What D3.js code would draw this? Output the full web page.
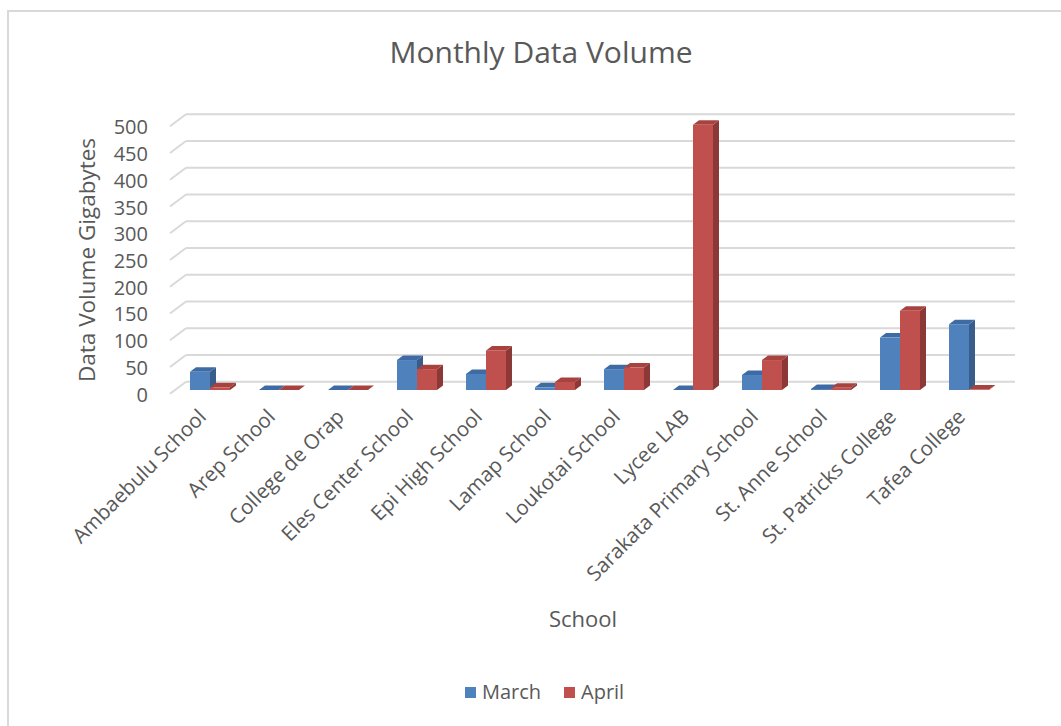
<!DOCTYPE html>
<html>
<head>
<meta charset="UTF-8">
<title>Monthly Data Volume</title>
<script src="https://d3js.org/d3.v7.min.js"></script>
<style>
    body { margin: 0; background: #fff; }
    svg { display: block; }
    text { font-family: "Open Sans", sans-serif; fill: #595959; }
</style>
</head>
<body>
<svg id="chart" width="1061" height="726"></svg>
<script>
    // data
    const schools = ["Ambaebulu School", "Arep School", "College de Orap", "Eles Center School",
        "Epi High School", "Lamap School", "Loukotai School", "Lycee LAB",
        "Sarakata Primary School", "St. Anne School", "St. Patricks College", "Tafea College"];
    const seriesNames = ["March", "April"];
    const march = [34, 0, 0, 56, 30, 5, 39, 0, 28, 2, 98, 123];
    const april = [5, 0, 0, 39, 74, 15, 42, 496, 56, 4, 148, 1];
    const yTicks = [0, 50, 100, 150, 200, 250, 300, 350, 400, 450, 500];

    const colors = {
        March: { front: "#4f81bd", side: "#385d8a", top: "#3e6ba3" },
        April: { front: "#c0504d", side: "#8c3836", top: "#a8423f" }
    };

    const svg = d3.select("#chart");

    // chart frame
    svg.append("rect")
        .attr("x", 8).attr("y", 11)
        .attr("width", 1100).attr("height", 800)
        .attr("fill", "none")
        .attr("stroke", "#d9d9d9")
        .attr("stroke-width", 2);

    // title
    svg.append("text")
        .attr("x", 541).attr("y", 63)
        .attr("text-anchor", "middle")
        .style("font-size", "30px")
        .text("Monthly Data Volume");

    // back wall scale and floor depth
    const yBack = d3.scaleLinear().domain([0, 500]).range([381.7, 114.3]);
    const wallLeft = 186, wallRight = 1015;
    const depthX = 16, depthY = 12;

    const grid = svg.append("g");
    yTicks.forEach(t => {
        grid.append("line")
            .attr("x1", wallLeft).attr("x2", wallRight)
            .attr("y1", yBack(t)).attr("y2", yBack(t))
            .attr("stroke", "#d9d9d9").attr("stroke-width", 2);
        grid.append("line")
            .attr("x1", wallLeft - depthX).attr("x2", wallLeft)
            .attr("y1", yBack(t) + depthY).attr("y2", yBack(t))
            .attr("stroke", "#d9d9d9").attr("stroke-width", 2);
    });

    // y tick labels
    svg.append("g").selectAll("text")
        .data(yTicks)
        .join("text")
        .attr("x", 148)
        .attr("y", d => yBack(d) + depthY + 1)
        .attr("dy", "0.35em")
        .attr("text-anchor", "end")
        .style("font-size", "20px")
        .text(d => d);

    // y axis title
    svg.append("text")
        .attr("transform", "translate(95,260) rotate(-90)")
        .attr("text-anchor", "middle")
        .style("font-size", "22.5px")
        .text("Data Volume Gigabytes");

    // bars
    const x0 = d3.scaleBand().domain(schools).range([175.5, 1003.5]);
    const groupW = 40;
    const x1 = d3.scaleBand().domain(seriesNames).range([0, groupW]);
    const yBar = d3.scaleLinear().domain([0, 500]).range([390, 122.6]);
    const bx = 6, by = -4.5;

    const rows = schools.map((s, i) => ({ school: s, March: march[i], April: april[i] }));
    const bars = svg.append("g");
    rows.forEach(r => {
        seriesNames.forEach(k => {
            const x = x0(r.school) + (x0.bandwidth() - groupW) / 2 + x1(k);
            const w = x1.bandwidth();
            const yt = yBar(r[k]), y0 = yBar(0);
            const c = colors[k];
            bars.append("polygon")
                .attr("points", [[x + w, yt], [x + w + bx, yt + by], [x + w + bx, y0 + by], [x + w, y0]].join(" "))
                .attr("fill", c.side);
            bars.append("polygon")
                .attr("points", [[x, yt], [x + bx, yt + by], [x + w + bx, yt + by], [x + w, yt]].join(" "))
                .attr("fill", c.top);
            bars.append("rect")
                .attr("x", x).attr("y", yt)
                .attr("width", w).attr("height", y0 - yt)
                .attr("fill", c.front);
        });
    });

    // category labels
    svg.append("g").selectAll("text")
        .data(schools)
        .join("text")
        .attr("transform", d => `translate(${x0(d) + x0.bandwidth() / 2 - 2.5},418) rotate(-45)`)
        .attr("text-anchor", "end")
        .style("font-size", "20.5px")
        .text(d => d);

    // x axis title
    svg.append("text")
        .attr("x", 583).attr("y", 627)
        .attr("text-anchor", "middle")
        .style("font-size", "22px")
        .text("School");

    // legend
    const legend = svg.append("g");
    const legendX = { March: 465, April: 564 };
    seriesNames.forEach(k => {
        legend.append("rect")
            .attr("x", legendX[k]).attr("y", 687)
            .attr("width", 11).attr("height", 11)
            .attr("fill", colors[k].front);
        legend.append("text")
            .attr("x", legendX[k] + 17).attr("y", 699)
            .style("font-size", "20px")
            .text(k);
    });
</script>
</body>
</html>
